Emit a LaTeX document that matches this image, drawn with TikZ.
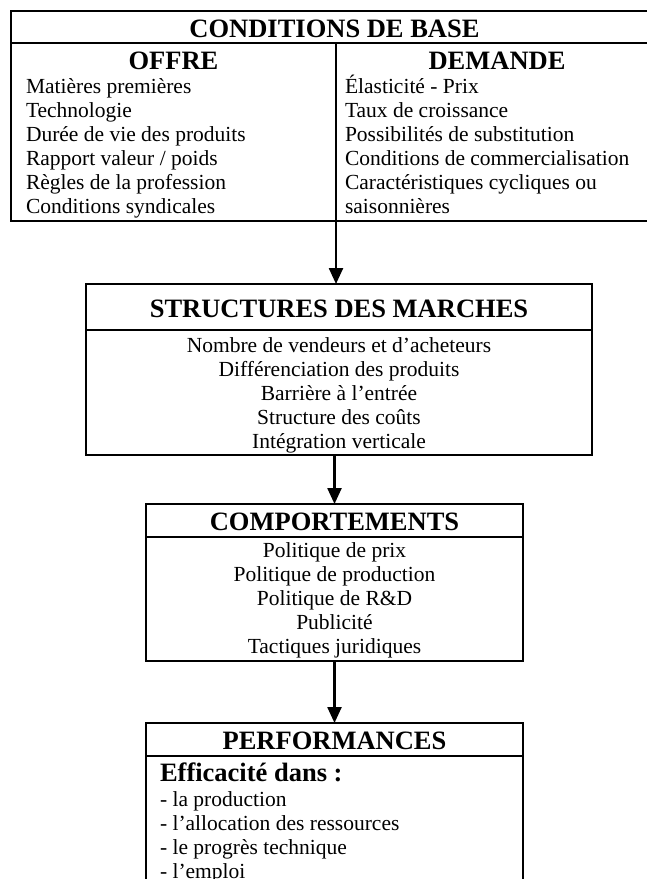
\documentclass[tikz,border=0pt]{standalone}
\usepackage{fontspec}
\setmainfont{Liberation Serif}
\usepackage{tikz}
\usetikzlibrary{positioning, arrows.meta}

\newcommand\corps{\fontsize{21.5}{24}\selectfont}
\newcommand\gras{\fontsize{26.5}{30}\selectfont\bfseries}

\begin{document}
\begin{tikzpicture}[
				x = 1pt, y = -1pt,
				node distance = 0pt,
				every node/.style = {inner sep=0pt, outer sep=0pt},
				cadre/.style = {draw, line width=2pt},
				bande/.style = {cadre, font=\gras, text height=20pt, text depth=0pt},
				entete/.style = {font=\gras, text height=26pt, text depth=7pt},
				ligne/.style = {font=\corps, text height=17pt, text depth=7pt},
				gauche/.style = {ligne, text width=290pt, align=flush left},
				centre/.style = {ligne, align=center},
				fleche/.style = {line width=2.4pt, -{Triangle[width=14pt, length=16pt]}}
			]
				\useasboundingbox (0,0) rectangle (646,879);
				% conditions de base
				\node (base) [bande, minimum width=647pt, minimum height=32pt, anchor=north west] at (11,11) {CONDITIONS DE BASE};
				\node (offre)   [cadre, minimum width=325pt, minimum height=178pt, below right=of base.south west] {};
				\node (demande) [cadre, minimum width=322pt, minimum height=178pt, right=of offre] {};
				\node (offreT)   [entete, below=of offre.north]   {OFFRE};
				\node (demandeT) [entete, below=of demande.north] {DEMANDE};
				%
				\node (o1) [gauche, anchor=north west, xshift=15pt] at (offreT.south -| offre.west) {Matières premières};
				\node (o2) [gauche, below=of o1] {Technologie};
				\node (o3) [gauche, below=of o2] {Durée de vie des produits};
				\node (o4) [gauche, below=of o3] {Rapport valeur / poids};
				\node (o5) [gauche, below=of o4] {Règles de la profession};
				\node (o6) [gauche, below=of o5] {Conditions syndicales};
				%
				\node (d1) [gauche, anchor=north west, xshift=9pt] at (demandeT.south -| demande.west) {Élasticité - Prix};
				\node (d2) [gauche, below=of d1] {Taux de croissance};
				\node (d3) [gauche, below=of d2] {Possibilités de substitution};
				\node (d4) [gauche, below=of d3] {Conditions de commercialisation};
				\node (d5) [gauche, below=of d4] {Caractéristiques cycliques ou};
				\node (d6) [gauche, below=of d5] {saisonnières};

				% structures des marches
				\node (struct)  [bande, minimum width=506pt, minimum height=46pt, anchor=north west] at (86,284) {STRUCTURES DES MARCHES};
				\node (structC) [cadre, minimum width=506pt, minimum height=125pt, below=of struct] {};
				\node (s1) [centre, below=5pt of structC.north] {Nombre de vendeurs et d’acheteurs};
				\node (s2) [centre, below=of s1] {Différenciation des produits};
				\node (s3) [centre, below=of s2] {Barrière à l’entrée};
				\node (s4) [centre, below=of s3] {Structure des coûts};
				\node (s5) [centre, below=of s4] {Intégration verticale};

				% comportements
				\node (comp)  [bande, minimum width=377pt, minimum height=33pt, anchor=north west] at (146,504) {COMPORTEMENTS};
				\node (compC) [cadre, minimum width=377pt, minimum height=124pt, below=of comp] {};
				\node (c1) [centre, below=3pt of compC.north] {Politique de prix};
				\node (c2) [centre, below=of c1] {Politique de production};
				\node (c3) [centre, below=of c2] {Politique de R\&D};
				\node (c4) [centre, below=of c3] {Publicité};
				\node (c5) [centre, below=of c4] {Tactiques juridiques};

				% performances
				\node (perf)  [bande, minimum width=377pt, minimum height=33pt, anchor=north west] at (146,723) {PERFORMANCES};
				\node (perfC) [cadre, minimum width=377pt, minimum height=150pt, below=of perf] {};
				\node (eff) [gauche, font=\gras, text height=25pt, text depth=8pt, anchor=north west, xshift=14pt] at (perfC.north west) {Efficacité dans :};
				\node (p1) [gauche, below=of eff] {- la production};
				\node (p2) [gauche, below=of p1] {- l’allocation des ressources};
				\node (p3) [gauche, below=of p2] {- le progrès technique};
				\node (p4) [gauche, below=of p3] {- l’emploi};

				\draw [fleche] (offre.south east) -- (offre.south east |- struct.north);
				\draw [fleche] (structC.south -| comp.north) -- (comp.north);
				\draw [fleche] (compC.south) -- (perf.north);
			\end{tikzpicture}
\end{document}
